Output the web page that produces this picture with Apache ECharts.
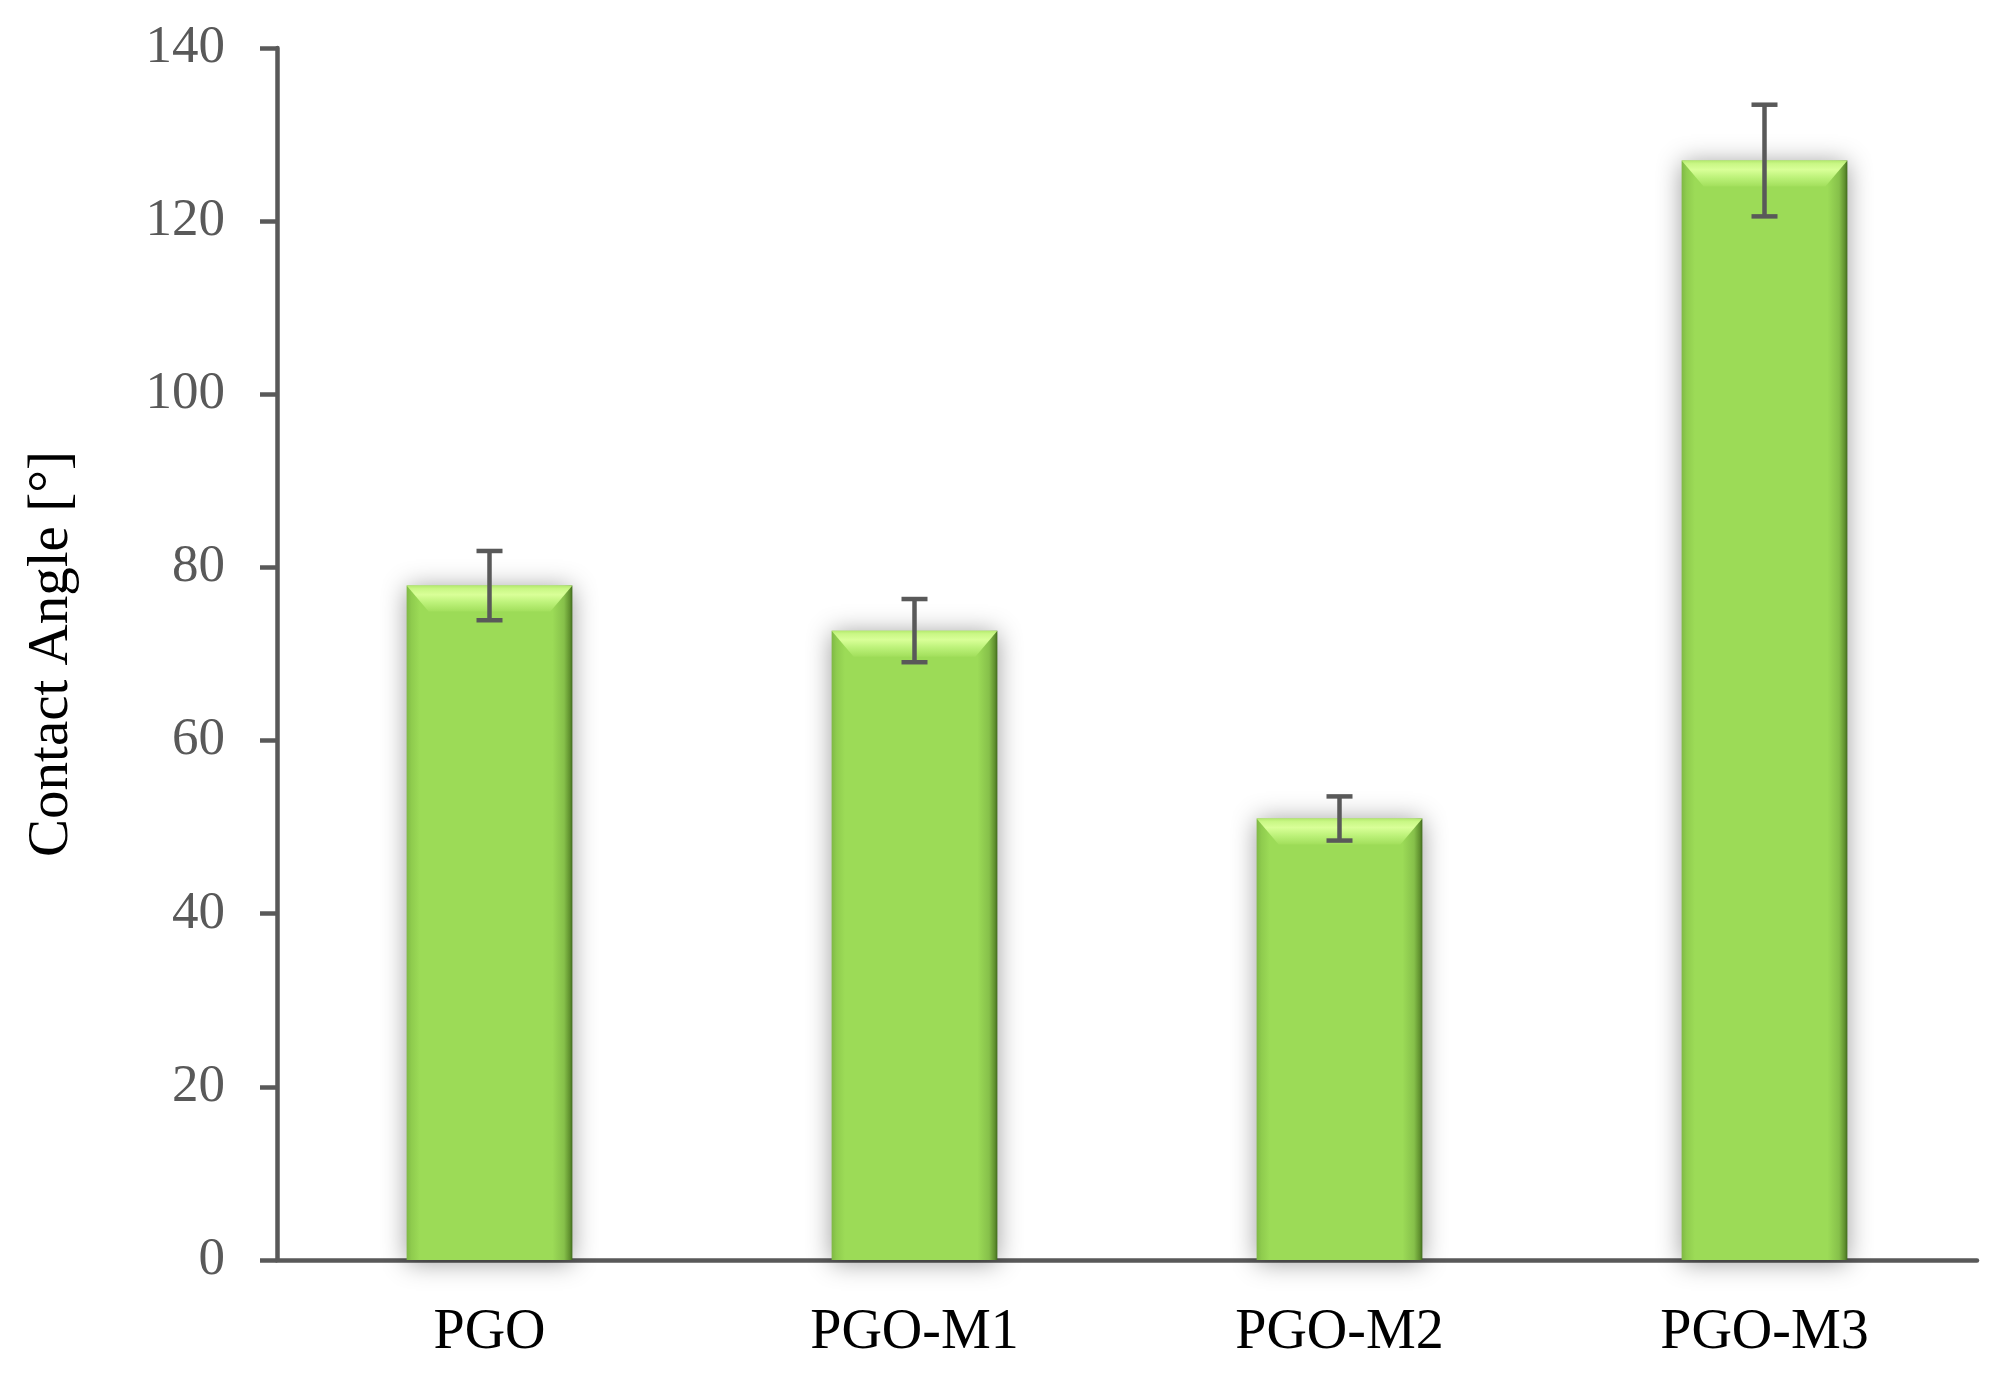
<!DOCTYPE html>
<html>
<head>
<meta charset="utf-8">
<script src="https://cdn.jsdelivr.net/npm/echarts@6/dist/echarts.min.js"></script>
<style>
  html, body { margin: 0; padding: 0; background: #ffffff; }
  #chart { width: 2006px; height: 1393px; }
</style>
</head>
<body>
<div id="chart"></div>
<script>
// ---- data ----
const categories = ['PGO', 'PGO-M1', 'PGO-M2', 'PGO-M3'];
const contactAngle = [77.9, 72.7, 51.0, 127.0];
const errorValues = [4.0, 3.65, 2.55, 6.45];
const yTicks = { min: 0, max: 140, interval: 20 };

const chart = echarts.init(document.getElementById('chart'), null, { renderer: 'canvas' });

const AXIS_GRAY = '#595959';
const FONT = '"Liberation Serif", "Times New Roman", serif';

const barColor = {
  type: 'linear', x: 0, y: 0, x2: 1, y2: 0,
  colorStops: [
    { offset: 0.0, color: '#7FB845' },
    { offset: 0.03, color: '#8FCC4E' },
    { offset: 0.08, color: '#9CDB57' },
    { offset: 0.88, color: '#9CDB57' },
    { offset: 0.95, color: '#86C04A' },
    { offset: 0.985, color: '#5F8F2E' },
    { offset: 1.0, color: '#3F6A1C' }
  ]
};

const bevelData = contactAngle.map((v, i) => [i, v]);
const errData = contactAngle.map((v, i) => [i, v - errorValues[i], v + errorValues[i]]);

chart.setOption({
  backgroundColor: '#ffffff',
  animation: false,
  grid: { left: 277, right: 29, top: 48, bottom: 133, containLabel: false },
  xAxis: {
    type: 'category',
    data: categories,
    axisLine: { show: true, lineStyle: { color: AXIS_GRAY, width: 4.5 } },
    axisTick: { show: false },
    axisLabel: { color: '#000000', fontFamily: FONT, fontSize: 56, margin: 45 },
    splitLine: { show: false }
  },
  yAxis: {
    type: 'value',
    min: yTicks.min, max: yTicks.max, interval: yTicks.interval,
    name: 'Contact Angle [°]',
    nameLocation: 'middle',
    nameGap: 196,
    nameRotate: 90,
    nameTextStyle: { color: '#000000', fontFamily: FONT, fontSize: 57 },
    axisLine: { show: true, lineStyle: { color: AXIS_GRAY, width: 4.5 } },
    axisTick: { show: true, inside: false, length: 17, lineStyle: { color: AXIS_GRAY, width: 4.5 } },
    axisLabel: { color: AXIS_GRAY, fontFamily: FONT, fontSize: 53, margin: 52 },
    splitLine: { show: false }
  },
  series: [
    {
      type: 'bar',
      data: contactAngle,
      barWidth: '39%',
      itemStyle: {
        color: barColor,
        shadowColor: 'rgba(0,0,0,0.4)',
        shadowBlur: 24,
        shadowOffsetX: 0,
        shadowOffsetY: 2
      },
      z: 2
    },
    {
      type: 'custom',
      data: bevelData,
      z: 3,
      renderItem: function (params, api) {
        const top = api.coord([api.value(0), api.value(1)]);
        const w = api.size([1, 0])[0] * 0.39;
        const x0 = top[0] - w / 2, x1 = top[0] + w / 2;
        const y0 = top[1], h = 26, inset = 22;
        return {
          type: 'polygon',
          shape: { points: [[x0, y0], [x1, y0], [x1 - inset, y0 + h], [x0 + inset, y0 + h]] },
          style: {
            fill: {
              type: 'linear', x: 0, y: 0, x2: 0, y2: 1,
              colorStops: [
                { offset: 0, color: '#B4E96E' },
                { offset: 0.12, color: '#C9F785' },
                { offset: 0.35, color: '#D9FF98' },
                { offset: 0.65, color: '#BDF27A' },
                { offset: 1, color: '#A2DF5C' }
              ]
            }
          },
          silent: true
        };
      }
    },
    {
      type: 'custom',
      data: errData,
      z: 4,
      renderItem: function (params, api) {
        const lo = api.coord([api.value(0), api.value(1)]);
        const hi = api.coord([api.value(0), api.value(2)]);
        const cx = lo[0], half = 13;
        const st = { stroke: AXIS_GRAY, lineWidth: 4.5 };
        return {
          type: 'group',
          children: [
            { type: 'line', shape: { x1: cx, y1: lo[1], x2: cx, y2: hi[1] }, style: st },
            { type: 'line', shape: { x1: cx - half, y1: lo[1], x2: cx + half, y2: lo[1] }, style: st },
            { type: 'line', shape: { x1: cx - half, y1: hi[1], x2: cx + half, y2: hi[1] }, style: st }
          ]
        };
      }
    }
  ]
});
</script>
</body>
</html>
